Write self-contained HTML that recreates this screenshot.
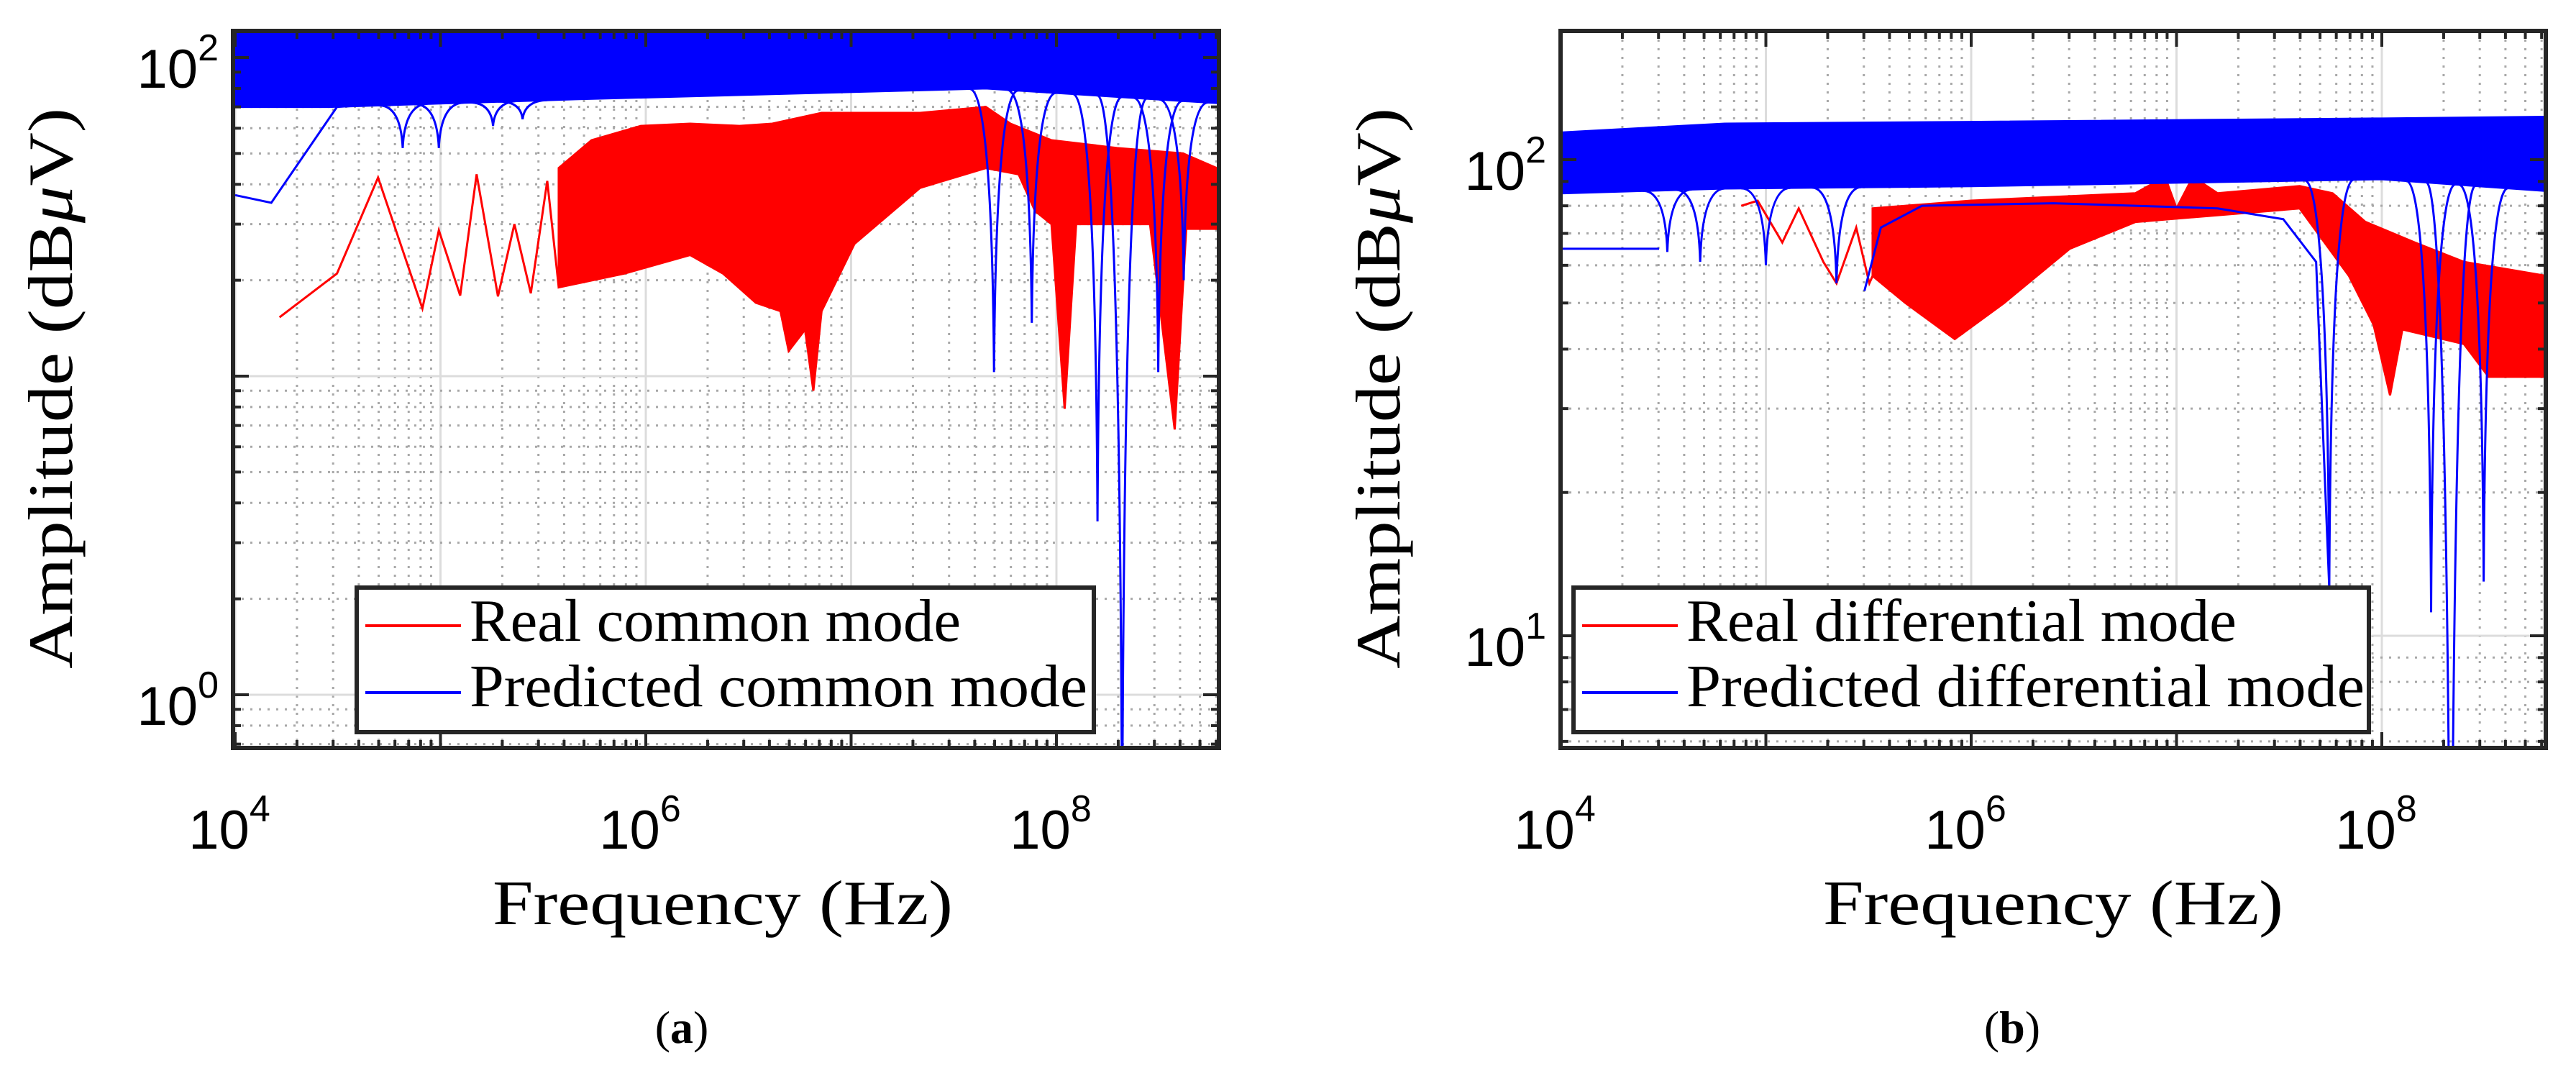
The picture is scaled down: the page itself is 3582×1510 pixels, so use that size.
<!DOCTYPE html>
<html><head><meta charset="utf-8"><style>
html,body{margin:0;padding:0;background:#fff;width:3582px;height:1510px;overflow:hidden;}
svg{display:block;}
text{fill:#000;}
</style></head><body>
<svg id="fig" width="3582" height="1510" viewBox="0 0 3582 1510" xmlns="http://www.w3.org/2000/svg">
<defs>
<clipPath id="clipA"><rect x="324" y="43" width="1371" height="997"/></clipPath>
<clipPath id="clipB"><rect x="2170" y="43" width="1370" height="997"/></clipPath>
</defs>
<g id="panelA"></g>
<g id="panelB"></g>
</svg>
<script>
// ---------- Panel A data (log10 frequency, amplitude in uV) ----------
const aRedSparseF = [4.216,4.496,4.696,4.912,4.992,5.096,5.176,5.28,5.36,5.44,5.52,5.576];
const aRedSparseV = [15.3,21,42,16.3,28.7,17.9,43,17.8,30,18.2,41,19];
const aRedUpperF = [5.576,5.736,5.976,6.216,6.456,6.616,6.856,7.096,7.336,7.656,7.776,7.976,8.296,8.616,8.78];
const aRedUpperV = [45,55,61,62,61,62,67,67,67,70,62,55,52,50,45];
const aRedLowerF = [5.576,5.896,6.216,6.376,6.536,6.656,6.696,6.776,6.816,6.856,7.016,7.336,7.656,7.816,7.896,7.976,8.04,8.096,8.456,8.576,8.632,8.78];
const aRedLowerV = [19,21,24,21,17,16,12,14,9,16,26,39,45,43,33,30,7.9,30,30,6.8,29,29];
const aBlueBandF = [4.0,4.456,5.656,7.656,8.78];
const aBlueBandLow = [70,70,74,80,72];
const aBlueBandHigh = [130,130,130,130,130];
const aBlueLineF = [4.0,4.176,4.496,4.8];
const aBlueLineV = [37,35,70,72];
const aDipF = [4.816,4.992,5.256,5.4,7.696,7.88,8.2,8.32,8.496,8.62];
const aDipV = [52,52,61,64,10.3,14.7,3.5,0.3,10.3,20];
// ---------- Panel B data ----------
const bRedSparseF = [4.88,4.96,5.08,5.16,5.28,5.344,5.44,5.504,5.52];
const bRedSparseV = [80,82,67,79,61,55,72,55,57];
const bRedUpperF = [5.52,6.0,6.8,6.944,7.0,7.08,7.2,7.6,7.76,7.92,8.16,8.4,8.8];
const bRedUpperV = [79,82,85,92,79,92,85,88,85,74,67,61,57];
const bRedLowerF = [5.52,5.68,5.92,6.16,6.48,6.8,7.6,7.84,7.96,8.04,8.1,8.4,8.52,8.8];
const bRedLowerV = [57,50,42,50,65,74,79,57,45,32,44,41,35,35];
const bBlueBandF = [4.0,4.8,6.0,8.0,8.8];
const bBlueBandLow = [85,87,88,91,86];
const bBlueBandHigh = [114,119,120,122,123];
const bBlueFlatF = [4.0,4.48];
const bBlueFlatV = [65,65];
const bBlueCurveF = [5.48,5.56,5.76,6.4,7.2,7.52,7.68,7.744];
const bBlueCurveV = [53,72,80,81,79,75,61,12.6];
const bDipF = [4.52,4.68,5.344,5.0,7.744,8.24,8.336,8.496];
const bDipV = [64,61,55,60,12.6,11.2,0.76,13];

const NS='http://www.w3.org/2000/svg';
function mk(tag,attrs,parent){const e=document.createElementNS(NS,tag);for(const k in attrs)e.setAttribute(k,attrs[k]);parent.appendChild(e);return e;}

function buildPanel(g,cfg){
  const X=lf=>cfg.x0+(lf-4)*285.5;
  const Y=v=>cfg.yRef-cfg.dec*(Math.log10(v)-cfg.lvRef);
  const L=cfg.L,R=cfg.R,T=43,B=1040;
  const grid=mk('g',{},g);
  
  
  for(let d=4;d<=8;d++){for(let m=1;m<10;m++){const lf=d+Math.log10(m);const x=X(lf);if(x<=L+2||x>=R-2)continue;
    if(m===1)mk('line',{x1:x,y1:T,x2:x,y2:B,stroke:'#dcdcdc','stroke-width':3},grid);
    else mk('line',{x1:x,y1:T,x2:x,y2:B,stroke:'#a8a8a8','stroke-width':3,'stroke-dasharray':'3 9'},grid);}}
  for(let d=-1;d<=2;d++){for(let m=1;m<10;m++){const v=m*Math.pow(10,d);const y=Y(v);if(y<=T+2||y>=B-2)continue;
    if(m===1)mk('line',{x1:L,y1:y,x2:R,y2:y,stroke:'#dcdcdc','stroke-width':3},grid);
    else mk('line',{x1:L,y1:y,x2:R,y2:y,stroke:'#a8a8a8','stroke-width':3,'stroke-dasharray':'3 9'},grid);}}
  const plot=mk('g',{'clip-path':'url(#'+cfg.clip+')'},g);
  
  
  let d='';cfg.redUF.forEach((f,i)=>{d+=(i?'L':'M')+X(f)+','+Y(cfg.redUV[i]);});
  for(let i=cfg.redLF.length-1;i>=0;i--)d+='L'+X(cfg.redLF[i])+','+Y(cfg.redLV[i]);
  const rb=mk('path',{d:d+'Z',fill:'#ff0000',stroke:'#ff0000','stroke-width':3},plot);
  
  
  let s='';cfg.redSF.forEach((f,i)=>{s+=(i?'L':'M')+X(f)+','+Y(cfg.redSV[i]);});
  const rs=mk('path',{d:s,fill:'none',stroke:'#ff0000','stroke-width':3},plot);
  
  
  d='';cfg.bbF.forEach((f,i)=>{d+=(i?'L':'M')+X(f)+','+Y(cfg.bbH[i]);});
  for(let i=cfg.bbF.length-1;i>=0;i--)d+='L'+X(cfg.bbF[i])+','+Y(cfg.bbL[i]);
  const bb=mk('path',{d:d+'Z',fill:'#0000ff',stroke:'#0000ff','stroke-width':3},plot);
  
  
  cfg.lines.forEach(([fa,va])=>{let p='';fa.forEach((f,i)=>{p+=(i?'L':'M')+X(f)+','+Y(va[i]);});
    const l=mk('path',{d:p,fill:'none',stroke:'#0000ff','stroke-width':3},plot);
    
    });
  const lowAt=f=>{const a=cfg.bbF,b=cfg.bbL;for(let i=1;i<a.length;i++)if(f<=a[i]){const t=(f-a[i-1])/(a[i]-a[i-1]);return Math.pow(10,Math.log10(b[i-1])+t*(Math.log10(b[i])-Math.log10(b[i-1])));}return b[b.length-1];};
  cfg.dipF.forEach((f,i)=>{const w=0.12;const p='M'+X(f-w)+','+Y(lowAt(f-w))+'Q'+X(f-0.01)+','+Y(lowAt(f))+' '+X(f)+','+Y(cfg.dipV[i])+'Q'+X(f+0.01)+','+Y(lowAt(f))+' '+X(f+w)+','+Y(lowAt(f+w));
    const l=mk('path',{d:p,fill:'none',stroke:'#0000ff','stroke-width':3},plot);
    
    });
  const tk=mk('g',{stroke:'#262626','stroke-width':4},g);
  
  
  for(let dd=4;dd<=8;dd++){for(let m=1;m<10;m++){const x=X(dd+Math.log10(m));if(x<L||x>R)continue;const len=m===1?22:11;
    mk('line',{x1:x,y1:B,x2:x,y2:B-len},tk);mk('line',{x1:x,y1:T,x2:x,y2:T+len},tk);}}
  for(let dd=-1;dd<=2;dd++){for(let m=1;m<10;m++){const y=Y(m*Math.pow(10,dd));if(y<T||y>B)continue;const len=m===1?22:11;
    mk('line',{x1:L,y1:y,x2:L+len,y2:y},tk);mk('line',{x1:R,y1:y,x2:R-len,y2:y},tk);}}
  const fr=mk('rect',{x:L,y:T,width:R-L,height:B-T,fill:'none',stroke:'#262626','stroke-width':6},g);
  
  
  [4,6,8].forEach(e=>{const t=mk('text',{x:X(e)-8,y:1180,'text-anchor':'middle','font-family':'Liberation Sans, sans-serif','font-size':76,fill:'#262626'},g);
    
    
    t.appendChild(document.createTextNode('10'));const sp=mk('tspan',{'font-size':52,dy:-38},t);sp.textContent=String(e);});
  cfg.yt.forEach(e=>{const y=Y(Math.pow(10,e));const t=mk('text',{x:L-20,y:y+42,'text-anchor':'end','font-family':'Liberation Sans, sans-serif','font-size':76,fill:'#262626'},g);
    
    
    t.appendChild(document.createTextNode('10'));const sp=mk('tspan',{'font-size':52,dy:-38},t);sp.textContent=String(e);});
  const yl=mk('text',{x:0,y:0,transform:'translate('+(cfg.ylx)+',540) rotate(-90)','text-anchor':'middle','font-family':'Liberation Serif, serif','font-size':88,textLength:780,lengthAdjust:'spacingAndGlyphs'},g);
  
  
  yl.appendChild(document.createTextNode('Amplitude (dB'));const mu=mk('tspan',{'font-style':'italic'},yl);mu.textContent='\u03BC';yl.appendChild(document.createTextNode('V)'));
  const xl=mk('text',{x:cfg.xlx,y:1285,'text-anchor':'middle','font-family':'Liberation Serif, serif','font-size':88,textLength:640,lengthAdjust:'spacingAndGlyphs'},g);
  
  
  xl.textContent='Frequency (Hz)';
  const lg=mk('g',{},g);
  
  
  mk('rect',{x:cfg.lgx,y:817,width:cfg.lgw,height:201,fill:'#fff',stroke:'#262626','stroke-width':6},lg);
  [[870,'#ff0000',cfg.lab1,cfg.w1,891],[963,'#0000ff',cfg.lab2,cfg.w2,982]].forEach(([ly,c,lab,w,by],i)=>{
    const ln=mk('line',{x1:cfg.lgx+12,y1:ly,x2:cfg.lgx+145,y2:ly,stroke:c,'stroke-width':4},lg);
    
    
    const t=mk('text',{x:cfg.lgx+157,y:by,'font-family':'Liberation Serif, serif','font-size':84,textLength:w,lengthAdjust:'spacingAndGlyphs'},lg);
    
    
    t.textContent=lab;});
  const cp=mk('text',{x:cfg.xlx-57,y:1450,'text-anchor':'middle','font-family':'Liberation Serif, serif','font-size':64},g);
  
  
  cp.appendChild(document.createTextNode('('));const bt=mk('tspan',{'font-weight':'bold'},cp);bt.textContent=cfg.cap;cp.appendChild(document.createTextNode(')'));
}
buildPanel(document.getElementById('panelA'),{x0:327,L:324,R:1695,yRef:966,lvRef:0,dec:443,clip:'clipA',
  redUF:aRedUpperF,redUV:aRedUpperV,redLF:aRedLowerF,redLV:aRedLowerV,redSF:aRedSparseF,redSV:aRedSparseV,
  bbF:aBlueBandF,bbL:aBlueBandLow,bbH:aBlueBandHigh,lines:[[aBlueLineF,aBlueLineV]],dipF:aDipF,dipV:aDipV,
  yt:[0,2],ylx:100,xlx:1005,lgx:496,lgw:1025,lab1:'Real common mode',w1:683,lab2:'Predicted common mode',w2:859,cap:'a'});
buildPanel(document.getElementById('panelB'),{x0:2170,L:2170,R:3540,yRef:884,lvRef:1,dec:662,clip:'clipB',
  redUF:bRedUpperF,redUV:bRedUpperV,redLF:bRedLowerF,redLV:bRedLowerV,redSF:bRedSparseF,redSV:bRedSparseV,
  bbF:bBlueBandF,bbL:bBlueBandLow,bbH:bBlueBandHigh,lines:[[bBlueFlatF,bBlueFlatV],[bBlueCurveF,bBlueCurveV]],dipF:bDipF,dipV:bDipV,
  yt:[1,2],ylx:1946,xlx:2855,lgx:2188,lgw:1106,lab1:'Real differential mode',w1:765,lab2:'Predicted differential mode',w2:943,cap:'b'});
</script>
</body></html>
